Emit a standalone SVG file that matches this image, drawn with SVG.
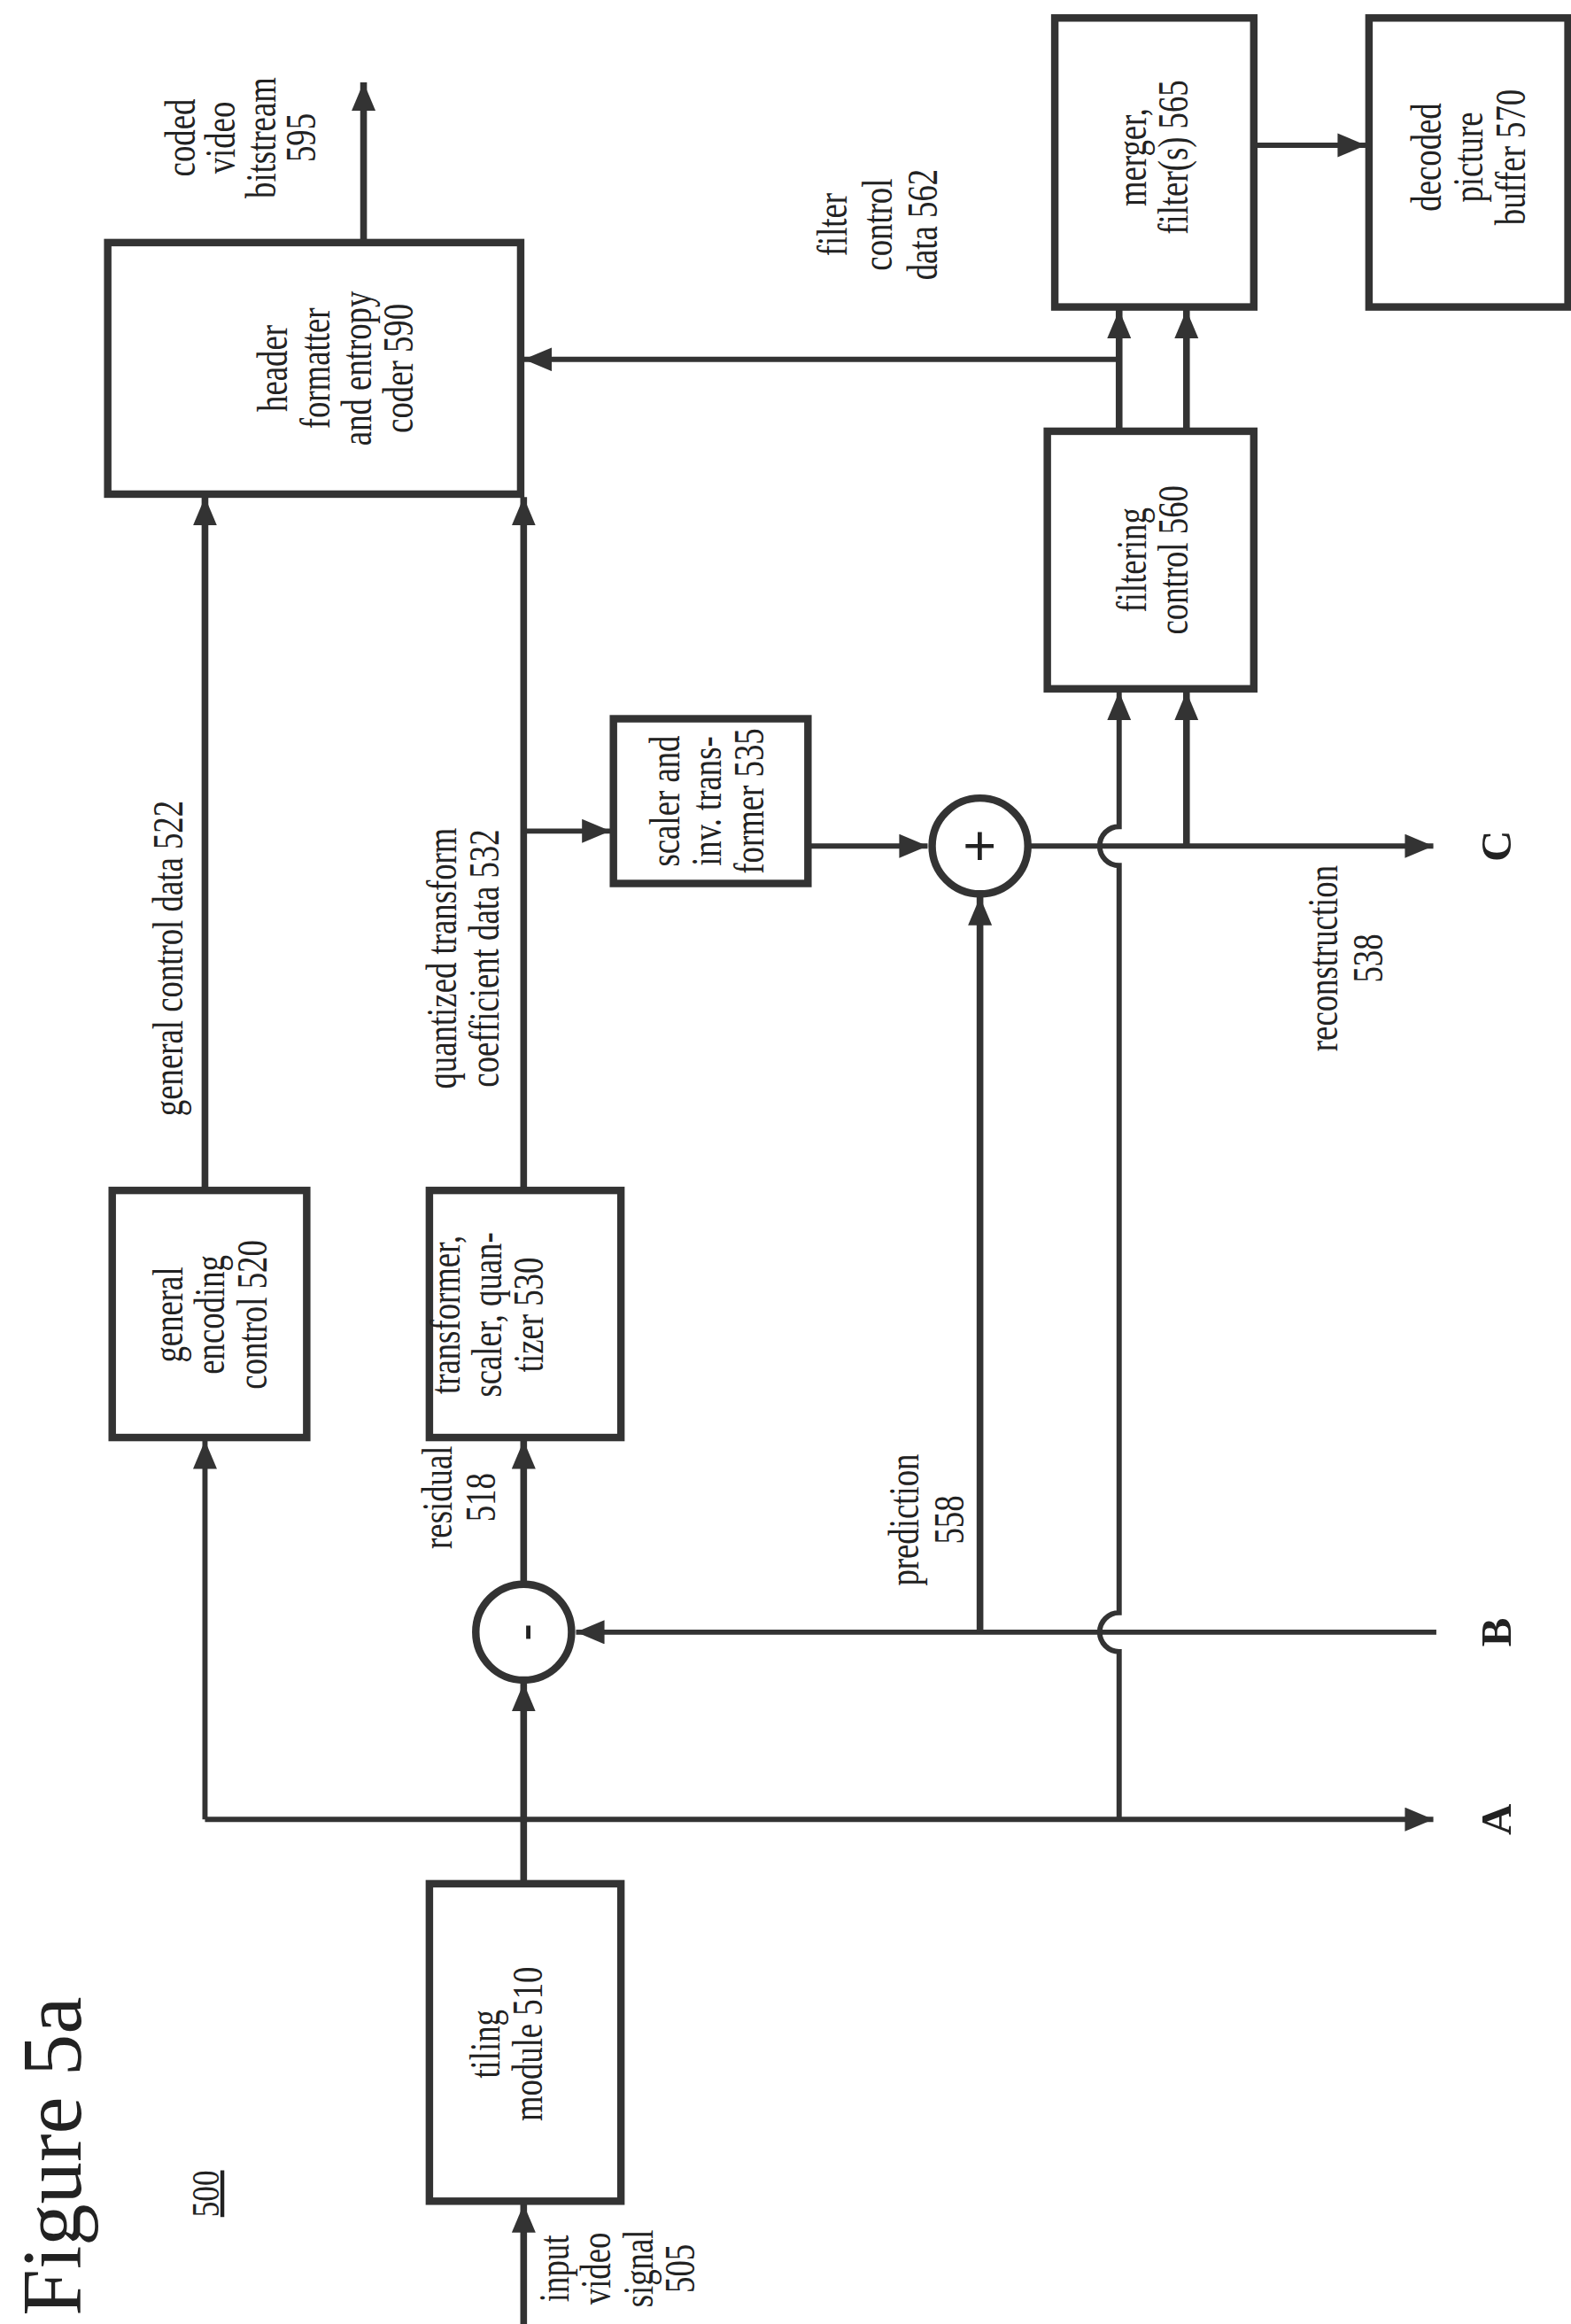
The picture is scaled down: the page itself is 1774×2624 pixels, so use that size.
<svg xmlns="http://www.w3.org/2000/svg" width="1774" height="2624" viewBox="0 0 1774 2624">
<style>
.b{fill:none;stroke:#333;stroke-width:5}
.c{fill:none;stroke:#333;stroke-width:3.5}
.t{font-family:"Liberation Serif","Times New Roman",serif;font-size:29px;fill:#222;text-anchor:middle}
</style>
<defs>
<marker id="ar" markerUnits="userSpaceOnUse" markerWidth="22" markerHeight="18" refX="19" refY="8" orient="auto"><path d="M0,0 L19,8 L0,16 Z" fill="#333"/></marker>
</defs>
<rect width="1774" height="2624" fill="#fff"/>
<g transform="scale(1.6895,1.6907)">
<g id="title">
<text class="t" style="font-size:56px" transform="translate(54,1440) rotate(-90)">Figure 5a</text>
<text class="t" style="font-size:26px" transform="translate(146,1465) rotate(-90) scale(0.8,1)" text-decoration="underline">500</text>
</g>
<g id="connectors" class="c">
<path d="M350,1552 V1472" marker-end="url(#ar)" style="stroke-width:4.5"/>
<path d="M350,1258 V1124" marker-end="url(#ar)" style="stroke-width:4.5"/>
<path d="M350,1058 V962" marker-end="url(#ar)" style="stroke-width:4.5"/>
<path d="M137,1215 H958" marker-end="url(#ar)"/>
<path d="M137,1215 V962" marker-end="url(#ar)"/>
<path d="M137,795 V332" marker-end="url(#ar)" style="stroke-width:4.5"/>
<path d="M350,795 V332" marker-end="url(#ar)" style="stroke-width:4.5"/>
<path d="M350,555 H408" marker-end="url(#ar)"/>
<path d="M540,565 H620" marker-end="url(#ar)"/>
<path d="M960,1090 H385" marker-end="url(#ar)"/>
<path d="M655,1090 V599" marker-end="url(#ar)" style="stroke-width:4.5"/>
<path d="M688,565 H958" marker-end="url(#ar)"/>
<path d="M748,1215 V1103 A13,13 0 0 1 748,1077 V578 A13,13 0 0 1 748,552 V462" marker-end="url(#ar)"/>
<path d="M793,565 V462" marker-end="url(#ar)" style="stroke-width:4.5"/>
<path d="M748,288 V207" marker-end="url(#ar)" style="stroke-width:4.5"/>
<path d="M793,288 V207" marker-end="url(#ar)" style="stroke-width:4.5"/>
<path d="M748,240 H350" marker-end="url(#ar)"/>
<path d="M838,97 H913" marker-end="url(#ar)"/>
<path d="M243,162 V55" marker-end="url(#ar)" style="stroke-width:4.5"/>
</g>
<g id="n505"><text class="t" transform="translate(380,1515) rotate(-90) scale(0.75,1)"><tspan x="0">input</tspan><tspan x="0" dy="28">video</tspan><tspan x="0" dy="28">signal</tspan><tspan x="0" dy="28">505</tspan></text></g>
<g id="n510"><rect class="b" x="287" y="1258" width="128" height="212"/><text class="t" transform="translate(334,1365) rotate(-90) scale(0.75,1)"><tspan x="0">tiling</tspan><tspan x="0" dy="28">module 510</tspan></text></g>
<g id="n520"><rect class="b" x="75" y="795" width="130" height="165"/><text class="t" transform="translate(122,878) rotate(-90) scale(0.75,1)"><tspan x="0">general</tspan><tspan x="0" dy="28">encoding</tspan><tspan x="0" dy="28">control 520</tspan></text></g>
<g id="n530"><rect class="b" x="287" y="795" width="128" height="165"/><text class="t" transform="translate(307,878) rotate(-90) scale(0.75,1)"><tspan x="0">transformer,</tspan><tspan x="0" dy="28">scaler, quan-</tspan><tspan x="0" dy="28">tizer 530</tspan></text></g>
<g id="minus"><circle class="b" cx="350" cy="1090" r="32"/><text class="t" style="font-size:34px;font-weight:bold" transform="translate(361,1090) rotate(-90)">-</text></g>
<g id="n518"><text class="t" transform="translate(302,1000) rotate(-90) scale(0.75,1)"><tspan x="0">residual</tspan><tspan x="0" dy="29">518</tspan></text></g>
<g id="n522"><text class="t" transform="translate(122,640) rotate(-90) scale(0.75,1)">general control data 522</text></g>
<g id="n532"><text class="t" transform="translate(305,640) rotate(-90) scale(0.75,1)"><tspan x="0">quantized transform</tspan><tspan x="0" dy="28">coefficient data 532</tspan></text></g>
<g id="n535"><rect class="b" x="410" y="480" width="130" height="110"/><text class="t" transform="translate(454,535) rotate(-90) scale(0.75,1)"><tspan x="0">scaler and</tspan><tspan x="0" dy="28">inv. trans-</tspan><tspan x="0" dy="28">former 535</tspan></text></g>
<g id="plus"><circle class="b" cx="655" cy="565" r="32"/><text class="t" style="font-size:40px;font-weight:bold" transform="translate(668,565) rotate(-90)">+</text></g>
<g id="n558"><text class="t" transform="translate(614,1015) rotate(-90) scale(0.75,1)"><tspan x="0">prediction</tspan><tspan x="0" dy="30">558</tspan></text></g>
<g id="n538"><text class="t" transform="translate(894,640) rotate(-90) scale(0.75,1)"><tspan x="0">reconstruction</tspan><tspan x="0" dy="30">538</tspan></text></g>
<g id="n560"><rect class="b" x="700" y="288" width="138" height="172"/><text class="t" transform="translate(766,374) rotate(-90) scale(0.75,1)"><tspan x="0">filtering</tspan><tspan x="0" dy="28">control 560</tspan></text></g>
<g id="n565"><rect class="b" x="705" y="12" width="133" height="193"/><text class="t" transform="translate(766,105) rotate(-90) scale(0.75,1)"><tspan x="0">merger,</tspan><tspan x="0" dy="28">filter(s) 565</tspan></text></g>
<g id="n570"><rect class="b" x="915" y="12" width="133" height="193"/><text class="t" transform="translate(963,105) rotate(-90) scale(0.75,1)"><tspan x="0">decoded</tspan><tspan x="0" dy="28">picture</tspan><tspan x="0" dy="28">buffer 570</tspan></text></g>
<g id="n562"><text class="t" transform="translate(566,150) rotate(-90) scale(0.75,1)"><tspan x="0">filter</tspan><tspan x="0" dy="30">control</tspan><tspan x="0" dy="30">data 562</tspan></text></g>
<g id="n590"><rect class="b" x="72" y="162" width="276" height="168"/><text class="t" transform="translate(192,246) rotate(-90) scale(0.75,1)"><tspan x="0">header</tspan><tspan x="0" dy="28">formatter</tspan><tspan x="0" dy="28">and entropy</tspan><tspan x="0" dy="28">coder 590</tspan></text></g>
<g id="n595"><text class="t" transform="translate(130,92) rotate(-90) scale(0.75,1)"><tspan x="0">coded</tspan><tspan x="0" dy="27">video</tspan><tspan x="0" dy="27">bitstream</tspan><tspan x="0" dy="27">595</tspan></text></g>
<g id="labels">
<text class="t" style="font-weight:bold" transform="translate(1010,1215) rotate(-90)">A</text>
<text class="t" style="font-weight:bold" transform="translate(1010,1090) rotate(-90)">B</text>
<text class="t" style="font-weight:bold" transform="translate(1010,565) rotate(-90)">C</text>
</g>
</g>
</svg>
